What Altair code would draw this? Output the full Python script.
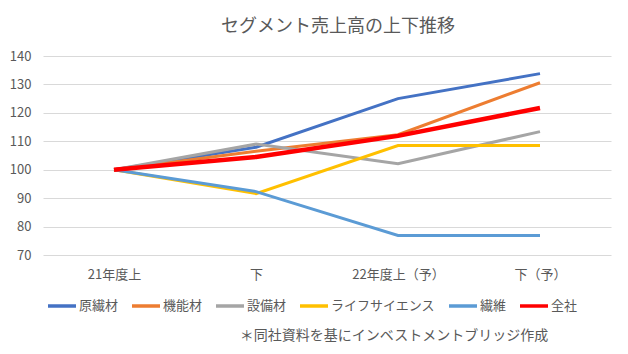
import altair as alt
import pandas as pd

periods = ["21年度上", "下", "22年度上（予）", "下（予）"]
series_names = ["原繊材", "機能材", "設備材", "ライフサイエンス", "繊維", "全社"]
colors = ["#4472C4", "#ED7D31", "#A5A5A5", "#FFC000", "#5B9BD5", "#FF0000"]

genshokuzai = [100, 107.9, 125.0, 133.8]
kinouzai = [100, 106.5, 112.3, 130.6]
setsubizai = [100, 109.0, 102.1, 113.4]
life_science = [100, 91.6, 108.5, 108.5]
seni = [100, 92.3, 76.9, 76.9]
zensha = [100, 104.5, 111.9, 121.7]

caption = ["＊同社資料を基にインベストメントブリッジ作成"]

all_values = [genshokuzai, kinouzai, setsubizai, life_science, seni, zensha]
rows = []
for name, vals in zip(series_names, all_values):
    for i, (p, v) in enumerate(zip(periods, vals)):
        rows.append({"系列": name, "期間": p, "値": v, "order": i})
df = pd.DataFrame(rows)

FONT = "Noto Sans CJK JP"
GRAY = "#595959"

x_enc = alt.X("期間:N", sort=periods,
              scale=alt.Scale(type="point", padding=0.5),
              axis=alt.Axis(title=None, labelAngle=0, labelFont=FONT, labelFontSize=13,
                            labelColor=GRAY, ticks=False, domain=False, grid=False,
                            labelPadding=13))
y_enc = alt.Y("値:Q", scale=alt.Scale(domain=[70, 140], nice=False, zero=False),
              axis=alt.Axis(title=None, values=[70, 80, 90, 100, 110, 120, 130, 140],
                            labelFont=FONT, labelFontSize=13, labelColor=GRAY,
                            ticks=False, domain=False, gridColor="#D9D9D9",
                            gridWidth=1, labelPadding=12))
color_enc = alt.Color("系列:N",
                      scale=alt.Scale(domain=series_names, range=colors),
                      legend=alt.Legend(title=None, orient="none", direction="horizontal",
                                        legendX=3, legendY=234,
                                        symbolType="stroke", symbolSize=784,
                                        symbolStrokeWidth=3.5,
                                        labelFont=FONT, labelFontSize=13, labelColor=GRAY,
                                        labelOffset=1, columnPadding=6,
                                        columns=6))

base = alt.Chart(df)

others = base.transform_filter(alt.datum["系列"] != "全社").mark_line(strokeWidth=3).encode(
    x=x_enc, y=y_enc, color=color_enc, order="order:Q", detail="系列:N")

total = base.transform_filter(alt.datum["系列"] == "全社").mark_line(strokeWidth=4.5).encode(
    x=x_enc, y=y_enc, color=color_enc, order="order:Q")

cap = alt.Chart(pd.DataFrame({"t": caption})).mark_text(
    font=FONT, fontSize=14, color=GRAY, align="center", baseline="middle"
).encode(text="t:N", x=alt.value(351), y=alt.value(280))

chart = alt.layer(others, total, cap).properties(
    width=568, height=199,
    title=alt.TitleParams("セグメント売上高の上下推移", font=FONT, fontSize=18,
                          fontWeight="normal", color=GRAY, anchor="middle",
                          dx=11, offset=14),
    padding={"left": 43, "top": 56, "right": 17, "bottom": 99},
    autosize=alt.AutoSizeParams(type="none"),
).configure_view(stroke=None)

chart.save("out.html", embed_options={"renderer": "svg", "actions": False})
